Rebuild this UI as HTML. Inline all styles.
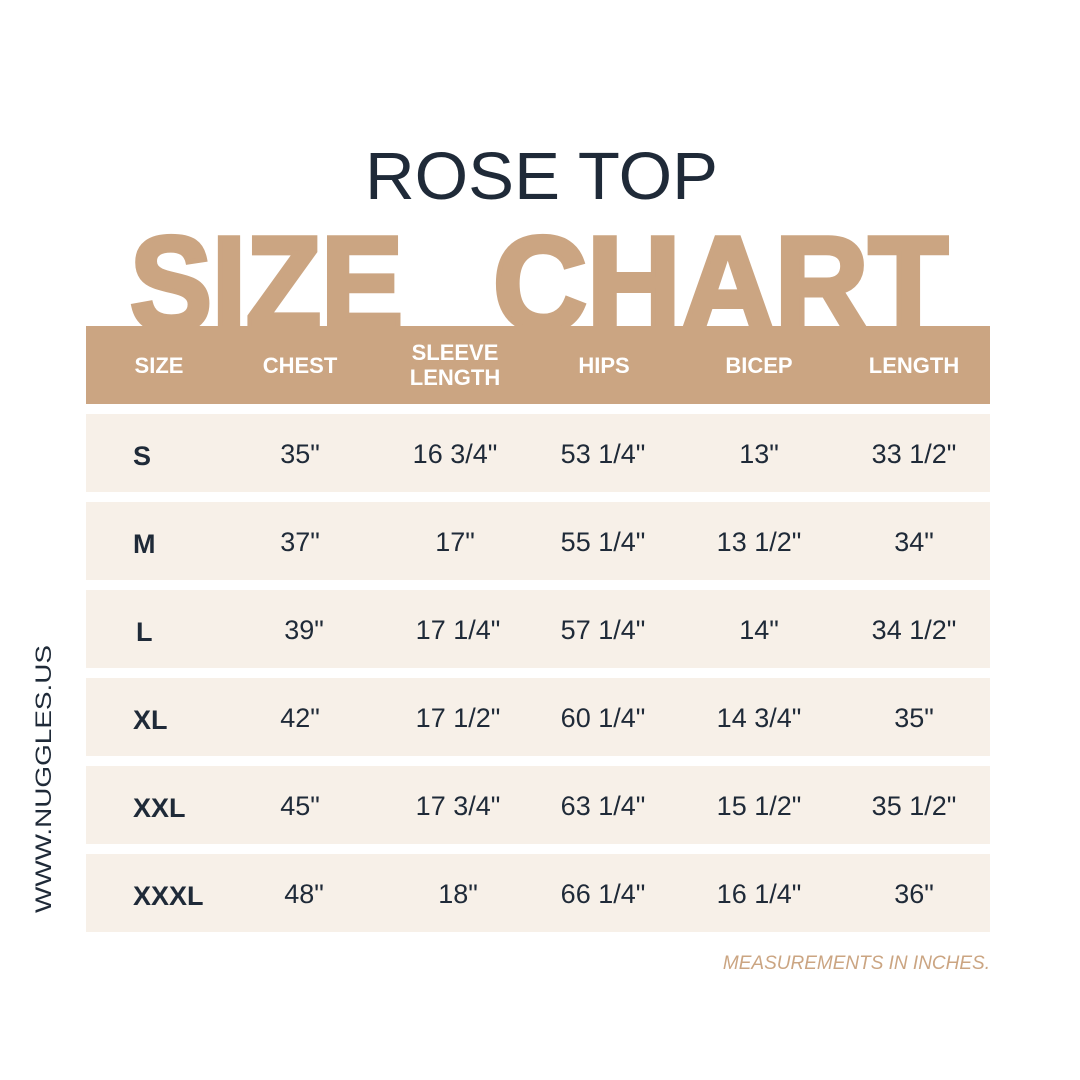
<!DOCTYPE html>
<html><head><meta charset="utf-8"><style>
html,body{margin:0;padding:0;background:#fff;}
svg{display:block;}
</style></head><body>
<svg width="1080" height="1080" viewBox="0 0 1080 1080" xmlns="http://www.w3.org/2000/svg" font-family="Liberation Sans, sans-serif">
<rect width="1080" height="1080" fill="#fff"/>
<text x="365" y="199" font-size="67" fill="#1F2A38" textLength="353" lengthAdjust="spacingAndGlyphs">ROSE TOP</text>
<g fill="#CBA582" stroke="#CBA582" stroke-width="5" stroke-linejoin="miter" font-size="134" font-weight="bold">
<text x="130" y="330" textLength="273" lengthAdjust="spacingAndGlyphs">SIZE</text>
<text x="493" y="330" textLength="455" lengthAdjust="spacingAndGlyphs">CHART</text>
</g>
<rect x="86" y="326" width="904" height="78" fill="#CBA582"/>
<g font-size="22" font-weight="bold" fill="#fff" text-anchor="middle">
<text x="159" y="373">SIZE</text>
<text x="300" y="373">CHEST</text>
<text x="455" y="360">SLEEVE</text>
<text x="455" y="385">LENGTH</text>
<text x="604" y="373">HIPS</text>
<text x="759" y="373">BICEP</text>
<text x="914" y="373">LENGTH</text>
</g>
<g fill="#F7F0E8">
<rect x="86" y="414" width="904" height="78"/>
<rect x="86" y="502" width="904" height="78"/>
<rect x="86" y="590" width="904" height="78"/>
<rect x="86" y="678" width="904" height="78"/>
<rect x="86" y="766" width="904" height="78"/>
<rect x="86" y="854" width="904" height="78"/>
</g>
<g font-size="27" font-weight="bold" fill="#1F2A38">
<text x="133" y="465">S</text>
<text x="133" y="553">M</text>
<text x="136" y="641">L</text>
<text x="133" y="729">XL</text>
<text x="133" y="817">XXL</text>
<text x="133" y="905">XXXL</text>
</g>
<g font-size="27" fill="#1F2A38" text-anchor="middle">
<text x="300" y="463">35"</text><text x="455" y="463">16 3/4"</text><text x="603" y="463">53 1/4"</text><text x="759" y="463">13"</text><text x="914" y="463">33 1/2"</text>
<text x="300" y="551">37"</text><text x="455" y="551">17"</text><text x="603" y="551">55 1/4"</text><text x="759" y="551">13 1/2"</text><text x="914" y="551">34"</text>
<text x="304" y="639">39"</text><text x="458" y="639">17 1/4"</text><text x="603" y="639">57 1/4"</text><text x="759" y="639">14"</text><text x="914" y="639">34 1/2"</text>
<text x="300" y="727">42"</text><text x="458" y="727">17 1/2"</text><text x="603" y="727">60 1/4"</text><text x="759" y="727">14 3/4"</text><text x="914" y="727">35"</text>
<text x="300" y="815">45"</text><text x="458" y="815">17 3/4"</text><text x="603" y="815">63 1/4"</text><text x="759" y="815">15 1/2"</text><text x="914" y="815">35 1/2"</text>
<text x="304" y="903">48"</text><text x="458" y="903">18"</text><text x="603" y="903">66 1/4"</text><text x="759" y="903">16 1/4"</text><text x="914" y="903">36"</text>
</g>
<text x="990" y="969" font-size="19" font-style="italic" fill="#CBA582" text-anchor="end">MEASUREMENTS IN INCHES.</text>
<text transform="translate(51,779) rotate(-90)" font-size="22" fill="#1F2A38" text-anchor="middle" textLength="268" lengthAdjust="spacingAndGlyphs">WWW.NUGGLES.US</text>
</svg>
</body></html>
